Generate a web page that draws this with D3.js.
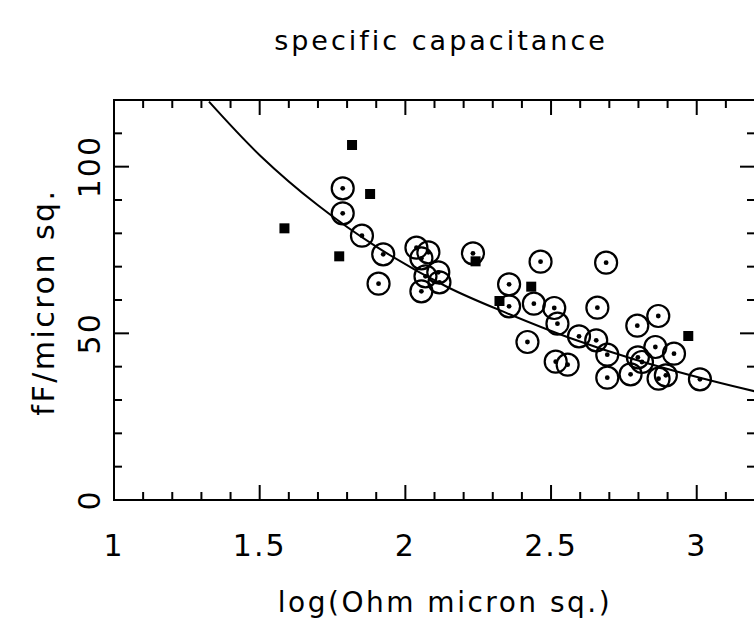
<!DOCTYPE html>
<html><head><meta charset="utf-8">
<script src="https://cdn.jsdelivr.net/npm/d3@7"></script>
<style>
html,body{margin:0;padding:0;background:#fff;}
text{font-family:"DejaVu Sans","Liberation Sans",Arial,sans-serif;fill:#000;}
</style></head>
<body><svg id="c" width="754" height="618"></svg>
<script>
// Filled squares (log Ohm·µm², fF/µm²)
const squareX = [1.585, 1.773, 1.817, 1.879, 2.241, 2.323, 2.432, 2.971];
const squareY = [81.5, 73.1, 106.5, 91.8, 71.6, 59.7, 64.0, 49.2];
// Dotted circles
const circleX = [1.785,1.785,1.851,1.924,1.908,2.038,2.079,2.055,2.069,2.113,2.117,2.055,2.232,2.356,2.356,2.441,2.511,2.522,2.419,2.516,2.557,2.464,2.689,2.659,2.596,2.655,2.693,2.693,2.773,2.796,2.868,2.858,2.922,2.812,2.798,2.869,2.894,3.011];
const circleY = [93.5,86.0,79.3,73.7,64.9,75.7,74.3,72.5,67.1,68.3,65.3,62.6,74.0,64.7,58.1,58.9,57.6,52.9,47.4,41.5,40.6,71.5,71.2,57.7,49.1,47.9,43.6,36.7,37.7,52.3,55.2,45.9,43.9,41.4,42.8,36.4,37.4,36.2];
// Fitted curve
const curveX = [1.326,1.502,1.70,1.90,2.144,2.35,2.565,2.782,3.058,3.2];
const curveY = [119.5,103.3,88.4,76.0,63.9,56.0,48.6,42.3,35.6,32.6];
const xTicks = [1,1.5,2,2.5,3];
const xTickLabels = ["1","1.5","2","2.5","3"];
const yTicks = [0,50,100];
const yTickLabels = ["0","50","100"];
const title = "specific capacitance";
const xTitle = "log(Ohm micron sq.)";
const yTitle = "fF/micron sq.";

const svg = d3.select("#c");
const L=114, R=755, T=100, B=500;
const x = d3.scaleLinear().domain([1,3.2]).range([L,R]);
const y = d3.scaleLinear().domain([0,120]).range([B,T]);

svg.append("defs").append("clipPath").attr("id","pc")
  .append("rect").attr("x",L).attr("y",T).attr("width",R-L).attr("height",B-T);

// frame
svg.append("rect").attr("x",L).attr("y",T).attr("width",R-L).attr("height",B-T)
  .attr("fill","none").attr("stroke","#000").attr("stroke-width",2);

// ticks (inward)
const minorX = d3.range(0,23).map(i=>1+i*0.1);
const g = svg.append("g").attr("stroke","#000").attr("stroke-width",2);
minorX.forEach(v=>{
  const major = Math.abs(v*2-Math.round(v*2))<1e-6;
  const len = major?15:8;
  g.append("line").attr("x1",x(v)).attr("x2",x(v)).attr("y1",B).attr("y2",B-len);
  g.append("line").attr("x1",x(v)).attr("x2",x(v)).attr("y1",T).attr("y2",T+len);
});
d3.range(0,13).map(i=>i*10).forEach(v=>{
  const major = v%50===0;
  const len = major?15:8;
  g.append("line").attr("x1",L).attr("x2",L+len).attr("y1",y(v)).attr("y2",y(v));
  g.append("line").attr("x1",R).attr("x2",R-len).attr("y1",y(v)).attr("y2",y(v));
});

// tick labels
xTicks.forEach((v,i)=>{
  svg.append("text").attr("x",x(v)).attr("y",556).attr("text-anchor","middle")
    .attr("font-size",30).attr("letter-spacing",2).text(xTickLabels[i]);
});
yTicks.forEach((v,i)=>{
  svg.append("text").attr("transform",`translate(100,${y(v)}) rotate(-90)`)
    .attr("text-anchor","middle").attr("font-size",30).attr("letter-spacing",2).text(yTickLabels[i]);
});

// titles
svg.append("text").attr("x",441).attr("y",50).attr("text-anchor","middle")
  .attr("font-size",27).attr("letter-spacing",3).text(title);
svg.append("text").attr("x",445).attr("y",612).attr("text-anchor","middle")
  .attr("font-size",28).attr("letter-spacing",2.5).text(xTitle);
svg.append("text").attr("transform",`translate(54,302) rotate(-90)`)
  .attr("text-anchor","middle").attr("font-size",30).attr("letter-spacing",2.5).text(yTitle);

const plot = svg.append("g").attr("clip-path","url(#pc)");
// curve
const line = d3.line().x(d=>x(d[0])).y(d=>y(d[1])).curve(d3.curveCatmullRom);
plot.append("path").datum(curveX.map((v,i)=>[v,curveY[i]]))
  .attr("d",line).attr("fill","none").attr("stroke","#000").attr("stroke-width",2);

// circles
const circ = circleX.map((v,i)=>[v,circleY[i]]);
plot.selectAll("circle.o").data(circ).enter().append("circle").attr("class","o")
  .attr("cx",d=>x(d[0])).attr("cy",d=>y(d[1])).attr("r",11)
  .attr("fill","none").attr("stroke","#000").attr("stroke-width",2.2);
plot.selectAll("circle.d").data(circ).enter().append("circle").attr("class","d")
  .attr("cx",d=>x(d[0])).attr("cy",d=>y(d[1])).attr("r",2.4).attr("fill","#000");

// squares
const sq = squareX.map((v,i)=>[v,squareY[i]]);
plot.selectAll("rect.s").data(sq).enter().append("rect").attr("class","s")
  .attr("x",d=>x(d[0])-5).attr("y",d=>y(d[1])-5).attr("width",10).attr("height",10).attr("fill","#000");
</script></body></html>
